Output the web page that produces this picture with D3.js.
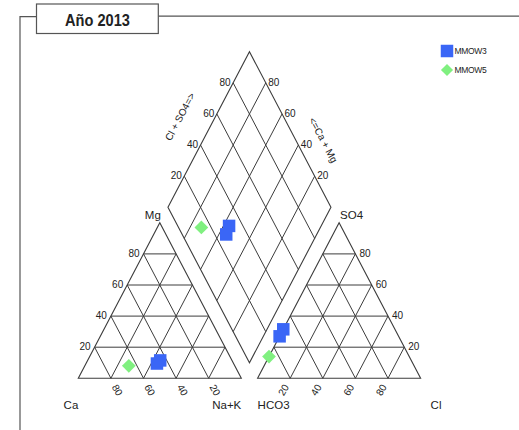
<!DOCTYPE html>
<html>
<head>
<meta charset="utf-8">
<script src="https://cdn.jsdelivr.net/npm/d3@7"></script>
<style>
  html, body { margin: 0; padding: 0; background: #fff; }
  svg { display: block; }
  text { font-family: "Liberation Sans", Arial, sans-serif; fill: #222; }
</style>
</head>
<body>
<svg id="chart" width="519" height="430"></svg>
<script>
// Piper diagram, samples of 2013 (percent of meq/L)
const sampleNames = ["MMOW3", "MMOW3", "MMOW5"];
const caPct   = [47, 44, 65];
const mgPct   = [9.5, 11.5, 8];
const naKPct  = [43.5, 44.5, 27];
const hco3Pct = [68.5, 73, 86];
const so4Pct  = [31.5, 27, 14];
const clPct   = [0, 0, 0];
const gridTicks = [20, 40, 60, 80];
const legendNames = ["MMOW3", "MMOW5"];
const legendColors = ["#3a66f6", "#80f080"];
const legendShapes = ["square", "diamond"];
const titleText = "Año 2013";

const svg = d3.select("#chart");

// Unit layout: each triangle has base 1 and height 1, gap 0.1 between them
const x = d3.scaleLinear().domain([0, 2.1]).range([78.3, 78.3 + 2.1 * 163]);
const y = d3.scaleLinear().domain([0, 2.1]).range([378.3, 378.3 - 2.1 * 155.5]);
const gap = 0.1;
const P = (u, v) => [x(u), y(v)];

const lineColor = "#3c3c3c";

// ---------- frame and title ----------
const frame = svg.append("g").attr("fill", "none").attr("stroke", "#555").attr("stroke-width", 1.2);
frame.append("path").attr("d", "M20,430 L20,16.7 L36,16.7");
frame.append("path").attr("d", "M158.3,16.2 L519,16.2");
frame.append("rect").attr("x", 36.5).attr("y", 4).attr("width", 121.8).attr("height", 29.5);
svg.append("text")
  .attr("transform", "translate(97.5,26) scale(1,1.12)")
  .attr("text-anchor", "middle")
  .style("font-size", "14.6px").style("font-weight", "bold")
  .text(titleText);

const g = svg.append("g");
const line = d3.line();

function seg(a, b, w) {
  g.append("path").attr("d", line([a, b]))
    .attr("stroke", lineColor).attr("stroke-width", w || 1).attr("fill", "none");
}

// ---------- triangles ----------
function triangle(x0) {
  const A = P(x0, 0), B = P(x0 + 1, 0), C = P(x0 + 0.5, 1);
  g.append("path").attr("d", line([A, B, C]) + "Z")
    .attr("stroke", lineColor).attr("stroke-width", 1.1).attr("fill", "none");
  gridTicks.forEach(t => {
    const f = t / 100;
    // horizontal (apex component)
    seg(P(x0 + f / 2, f), P(x0 + 1 - f / 2, f));
    // parallel to left side
    seg(P(x0 + f, 0), P(x0 + f + (1 - f) / 2, 1 - f));
    // parallel to right side
    seg(P(x0 + 1 - f, 0), P(x0 + (1 - f) / 2, 1 - f));
  });
}
triangle(0);
triangle(1 + gap);

// ---------- diamond ----------
const dB = [1 + gap / 2, gap], dL = [0.5 + gap / 2, 1 + gap],
      dR = [1.5 + gap / 2, 1 + gap], dT = [1 + gap / 2, 2 + gap];
g.append("path").attr("d", line([P(...dB), P(...dL), P(...dT), P(...dR)]) + "Z")
  .attr("stroke", lineColor).attr("stroke-width", 1.1).attr("fill", "none");
gridTicks.forEach(t => {
  const f = t / 100;
  // lines parallel to upper-left edge
  seg(P(dB[0] + 0.5 * f, dB[1] + f), P(dL[0] + 0.5 * f, dL[1] + f));
  // lines parallel to upper-right edge
  seg(P(dB[0] - 0.5 * f, dB[1] + f), P(dR[0] - 0.5 * f, dR[1] + f));
});

// ---------- tick labels ----------
const tickFont = "10px";
function label(xy, txt, anchor, rot, dx, dy) {
  const t = g.append("text")
    .attr("transform", `translate(${xy[0] + (dx || 0)},${xy[1] + (dy || 0)})` + (rot ? ` rotate(${rot})` : ""))
    .attr("text-anchor", anchor).attr("dy", "0.35em")
    .style("font-size", tickFont).text(txt);
  return t;
}
gridTicks.forEach(t => {
  const f = t / 100;
  // Mg on left side of cation triangle
  label(P(f / 2, f), t, "end", 0, -4, -0.5);
  // SO4 on right side of anion triangle
  label(P(2.1 - f / 2, f), t, "start", 0, 4, -0.5);
  // Ca along cation base (100 at the Ca corner)
  label(P(1 - f, 0), t, "start", 60, 3.6, 6.9);
  // Cl along anion base
  label(P(1 + gap + f, 0), t, "end", -60, -3.9, 6.9);
  // Cl + SO4 along upper-left diamond edge
  label(P(dL[0] + 0.5 * f, dL[1] + f), t, "end", 0, -2.5, -0.5);
  // Ca + Mg along upper-right diamond edge
  label(P(dR[0] - 0.5 * f, dR[1] + f), t, "start", 0, 2.5, -0.5);
});

// ---------- corner and axis titles ----------
const cornerFont = "11.5px";
function corner(xy, txt, anchor, dx, dy) {
  g.append("text").attr("x", xy[0] + dx).attr("y", xy[1] + dy)
    .attr("text-anchor", anchor).style("font-size", cornerFont).text(txt);
}
corner(P(0, 0), "Ca", "end", 0, 31);
corner(P(1, 0), "Na+K", "end", 0, 31);
corner(P(1 + gap, 0), "HCO3", "start", 0, 31);
corner(P(2.1, 0), "Cl", "start", 10, 31);
corner(P(0.5, 1), "Mg", "end", 1, -4);
corner(P(1.6, 1), "SO4", "start", 1, -4);

g.append("text").attr("transform", "translate(180,116.7) rotate(-62)")
  .attr("text-anchor", "middle").attr("dy", "0.35em")
  .style("font-size", "10px").text("Cl + SO4=>");
g.append("text").attr("transform", "translate(323.3,140) rotate(62)")
  .attr("text-anchor", "middle").attr("dy", "0.35em")
  .style("font-size", "10px").text("<=Ca + Mg");

// ---------- sample points ----------
const colorOf = d3.scaleOrdinal().domain(legendNames).range(legendColors);
const shapeOf = d3.scaleOrdinal().domain(legendNames).range(legendShapes);

function marker(sel, shape, size) {
  if (shape === "square") {
    const h = size / 2;
    return sel.append("path").attr("d", `M${-h},${-h}H${h}V${h}H${-h}Z`);
  }
  const h = size * 0.55;
  return sel.append("path").attr("d", `M0,${-h}L${h},0L0,${h}L${-h},0Z`);
}

const points = sampleNames.map((name, i) => {
  const tot1 = caPct[i] + mgPct[i] + naKPct[i];
  const tot2 = hco3Pct[i] + so4Pct[i] + clPct[i];
  const mg = mgPct[i] / tot1, nak = naKPct[i] / tot1;
  const so4 = so4Pct[i] / tot2, cl = clPct[i] / tot2;
  const cat = [nak + mg / 2, mg];
  const an = [1 + gap + cl + so4 / 2, so4];
  const t = (2 * (an[0] - cat[0]) + an[1] - cat[1]) / 2;
  const dia = [cat[0] + 0.5 * t, cat[1] + t];
  return { name, cat, an, dia };
});

const pts = svg.append("g");
// draw the MMOW5 sample first, then MMOW3 on top
[2, 0, 1].forEach(i => {
  const p = points[i];
  [p.cat, p.an, p.dia].forEach(c => {
    const m = pts.append("g").attr("transform", `translate(${x(c[0])},${y(c[1])})`);
    marker(m, shapeOf(p.name), 12.5).attr("fill", colorOf(p.name));
  });
});

// ---------- legend ----------
const legend = svg.append("g");
legendNames.forEach((name, i) => {
  const row = legend.append("g").attr("transform", `translate(447,${51 + i * 19})`);
  marker(row, legendShapes[i], legendShapes[i] === "square" ? 12.5 : 11).attr("fill", legendColors[i]);
  row.append("text").attr("x", 7.5).attr("y", 3).style("font-size", "8.5px")
    .style("letter-spacing", "-0.3px").text(name);
});
</script>
</body>
</html>
